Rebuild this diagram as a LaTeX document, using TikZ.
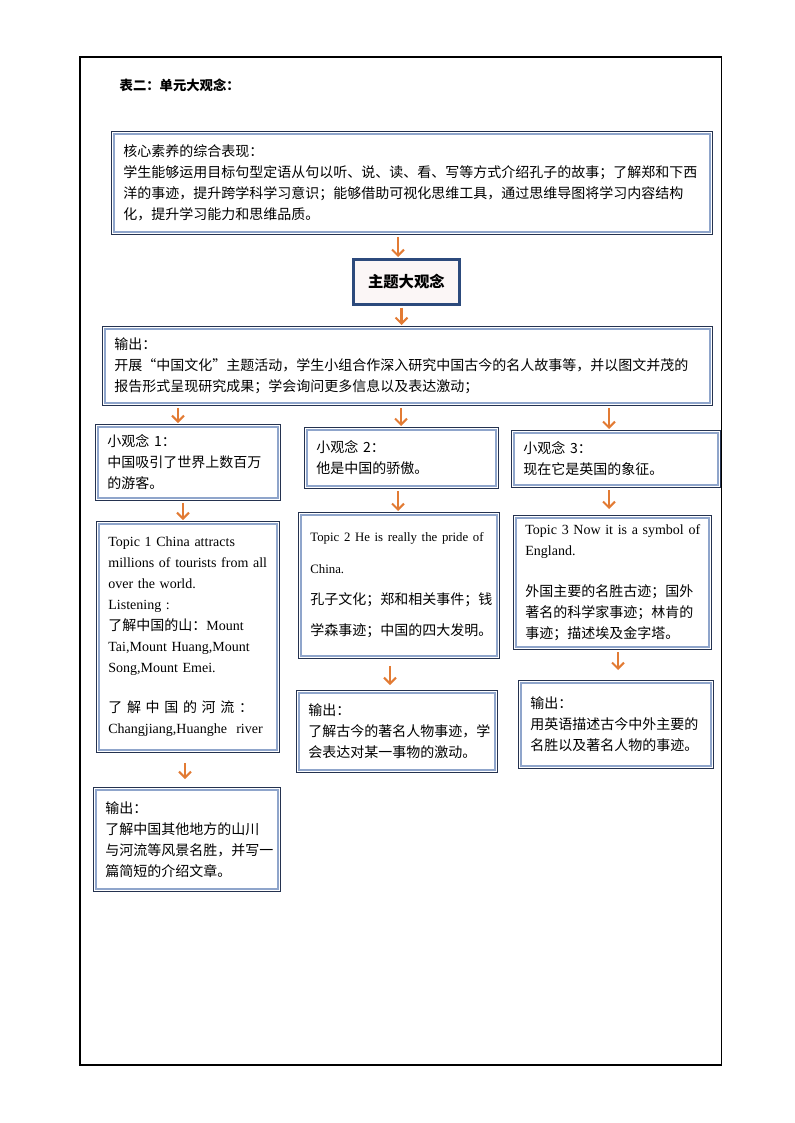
\documentclass[tikz,border=0pt]{standalone}
\usepackage{fontspec}
\setmainfont{Noto Sans CJK SC}
\newfontfamily\en{Liberation Serif}
\usepackage{xcolor}
\usepackage{tikz}
\usetikzlibrary{arrows.meta}
\definecolor{rimdark}{HTML}{24324F}
\definecolor{rimlight}{HTML}{8FA5CB}
\definecolor{arrowor}{HTML}{E27B34}
\definecolor{navy}{HTML}{2C4A7C}
\definecolor{blush}{HTML}{FBF6F6}

\begin{document}
\begin{tikzpicture}[
  x=0.75pt,y=-0.75pt,
  font=\fontsize{10.5pt}{15.75pt}\selectfont,
  cell/.style={draw=rimdark,line width=0.6pt,anchor=north west,align=left,inner xsep=9pt,inner ysep=2pt,
    path picture={\draw[rimlight,line width=1.2pt] ([shift={(2pt,-2pt)}]path picture bounding box.north west) rectangle ([shift={(-2pt,2pt)}]path picture bounding box.south east);}},
  theme/.style={draw=navy,line width=2pt,fill=blush,anchor=north west,minimum width=79.5pt,minimum height=33.75pt,font=\fontsize{11.5pt}{13pt}\selectfont\bfseries},
  arr/.style={-{Straight Barb[length=4.5pt,width=9pt,line width=1.5pt]},line width=1.6pt,draw=arrowor,shorten <=1.5pt,shorten >=0.75pt}
]
  \useasboundingbox (0,0) rectangle (794,1123);
  \draw[line width=0.8pt] (80,57) rectangle (721.5,1065);
  \node[anchor=west,font=\fontsize{10pt}{12pt}\selectfont\bfseries] (title) at (115,85) {表二：单元大观念：};

  \node[cell,minimum width=450.75pt,minimum height=77.25pt,text width=432.75pt] (core) at (111,131)
    {核心素养的综合表现：\\
     学生能够运用目标句型定语从句以听、说、读、看、写等方式介绍孔子的故事；了解郑和下西\\
     洋的事迹，提升跨学科学习意识；能够借助可视化思维工具，通过思维导图将学习内容结构\\
     化，提升学习能力和思维品质。};
  \node[theme] (big) at (352,258) {主题大观念};
  \node[cell,minimum width=457.5pt,minimum height=59.25pt,text width=439.5pt] (output) at (102,326)
    {输出：\\
     开展“中国文化”主题活动，学生小组合作深入研究中国古今的名人故事等，并以图文并茂的\\
     报告形式呈现研究成果；学会询问更多信息以及表达激动；};

  \node[cell,minimum width=138.75pt,minimum height=57pt,text width=120.75pt] (idea1) at (95,424)
    {小观念 1：\\中国吸引了世界上数百万\\的游客。};
  \node[cell,minimum width=145.5pt,minimum height=45.75pt,text width=127.5pt] (idea2) at (304,427)
    {小观念 2：\\他是中国的骄傲。};
  \node[cell,minimum width=156.75pt,minimum height=42.75pt,text width=138.75pt] (idea3) at (511,430)
    {小观念 3：\\现在它是英国的象征。};

  \node[cell,minimum width=137.25pt,minimum height=173.25pt,text width=119.25pt] (topic1) at (96,521)
    {{\en Topic 1 China attracts}\\
     \mbox{\en millions of tourists from all}\\
     {\en over the world.}\\
     {\en Listening :}\\
     了解中国的山：{\en Mount}\\
     \mbox{\en Tai,Mount Huang,Mount}\\
     {\en Song,Mount Emei.}\\[14pt]
     \makebox[115pt][s]{了 解 中 国 的 河 流 ：}\\
     \mbox{\en Changjiang,Huanghe\ \ river}};
  \node[cell,minimum width=150.75pt,minimum height=109.5pt,text width=132.75pt,font=\fontsize{10.5pt}{23.6pt}\selectfont] (topic2) at (298,512)
    {\mbox{\en\fontsize{9.6pt}{23.6pt}\selectfont Topic 2 He is really the pride of}\\
     {\en\fontsize{9.6pt}{23.6pt}\selectfont China.}\\
     孔子文化；郑和相关事件；钱\\
     学森事迹；中国的四大发明。};
  \node[cell,minimum width=148.5pt,minimum height=100.5pt,text width=130.5pt] (topic3) at (513,515)
    {\makebox[130pt][s]{\en Topic 3 Now it is a symbol of}\\
     {\en England.}\\[15pt]
     外国主要的名胜古迹；国外\\
     著名的科学家事迹；林肯的\\
     事迹；描述埃及金字塔。};

  \node[cell,minimum width=140.25pt,minimum height=78pt,text width=122.25pt] (result1) at (93,787)
    {输出：\\了解中国其他地方的山川\\与河流等风景名胜，并写一\\篇简短的介绍文章。};
  \node[cell,minimum width=150.75pt,minimum height=61.5pt,text width=132.75pt] (result2) at (296,690)
    {输出：\\了解古今的著名人物事迹，学\\会表达对某一事物的激动。};
  \node[cell,minimum width=146.25pt,minimum height=66pt,text width=128.25pt] (result3) at (518,680)
    {输出：\\用英语描述古今中外主要的\\名胜以及著名人物的事迹。};

  \draw[arr] (core.south -| 398,0) -- (big.north -| 398,0);
  \draw[arr] (big.south -| 401.5,0) -- (output.north -| 401.5,0);
  \draw[arr] (output.south -| 178,0) -- (idea1.north -| 178,0);
  \draw[arr] (output.south -| 401,0) -- (idea2.north -| 401,0);
  \draw[arr] (output.south -| 609,0) -- (idea3.north -| 609,0);
  \draw[arr] (idea1.south -| 183,0) -- (topic1.north -| 183,0);
  \draw[arr] (idea2.south -| 398,0) -- (topic2.north -| 398,0);
  \draw[arr,shorten >=4.5pt] (idea3.south -| 609,0) -- (topic3.north -| 609,0);
  \draw[arr,shorten <=7.5pt,shorten >=6pt] (topic1.south -| 185,0) -- (result1.north -| 185,0);
  \draw[arr,shorten <=5.25pt,shorten >=3.75pt] (topic2.south -| 390,0) -- (result2.north -| 390,0);
  \draw[arr,shorten >=7.5pt] (topic3.south -| 618,0) -- (result3.north -| 618,0);
\end{tikzpicture}
\end{document}
